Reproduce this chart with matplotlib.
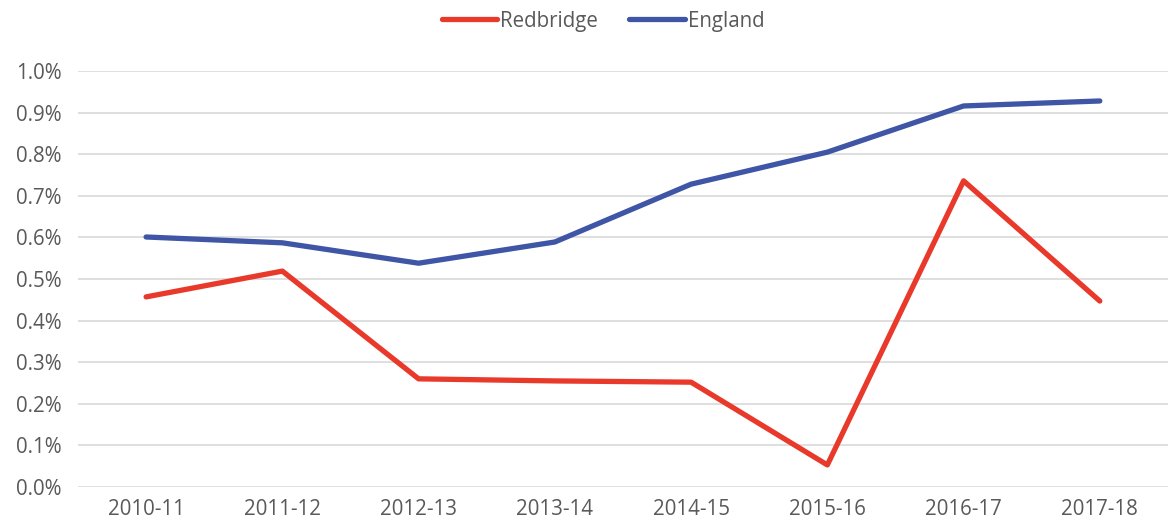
import matplotlib
matplotlib.use("Agg")
import matplotlib.pyplot as plt
from matplotlib.ticker import FuncFormatter

years = ["2010-11", "2011-12", "2012-13", "2013-14", "2014-15", "2015-16", "2016-17", "2017-18"]
redbridge = [0.457, 0.519, 0.260, 0.255, 0.252, 0.053, 0.736, 0.447]
england = [0.601, 0.587, 0.538, 0.589, 0.728, 0.805, 0.916, 0.928]

plt.rcParams["font.family"] = ["Open Sans", "DejaVu Sans"]
TXT = "#595959"

fig = plt.figure(figsize=(11.71, 5.32), dpi=100)
ax = fig.add_axes([0.0666, 0.0846, 0.9308, 0.7819])

x = range(len(years))
ax.plot(x, redbridge, color="#E8392B", linewidth=3.8, label="Redbridge", solid_capstyle="round")
ax.plot(x, england, color="#3F55A5", linewidth=3.8, label="England", solid_capstyle="round")

ax.set_xlim(-0.5, len(years) - 0.5)
ax.set_ylim(0, 1.0)
ax.set_yticks([i / 10 for i in range(11)])
ax.yaxis.set_major_formatter(FuncFormatter(lambda v, p: f"{v:.1f}%"))
ax.set_xticks(list(x))
ax.set_xticklabels(years)
ax.grid(axis="y", color="#D9D9D9", linewidth=1.2)
ax.set_axisbelow(True)
for s in ax.spines.values():
    s.set_visible(False)
ax.tick_params(length=0, labelsize=14.8, colors=TXT, pad=9)
ax.tick_params(axis="y", pad=12)

fig.legend(loc="upper center", bbox_to_anchor=(0.515, 1.015), ncol=2, frameon=False,
           fontsize=14.8, labelcolor=TXT, handlelength=2.7, handletextpad=0.15,
           columnspacing=1.5)

plt.savefig("out.png", dpi=100)
